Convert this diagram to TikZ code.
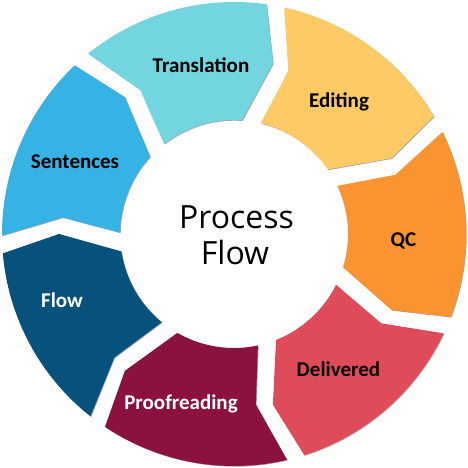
\documentclass[tikz,border=0pt]{standalone}
\usepackage{fontspec}
\setmainfont{Carlito}
\newfontfamily\centrefont{Open Sans}
\usetikzlibrary{shadows}
\definecolor{sentc}{HTML}{36B3E4}
\definecolor{translc}{HTML}{73D5DF}
\definecolor{editc}{HTML}{FECA66}
\definecolor{qcc}{HTML}{F99431}
\definecolor{delivc}{HTML}{E04B5A}
\definecolor{proofc}{HTML}{8B113E}
\definecolor{flowc}{HTML}{07517D}
\tikzset{
  segment/.style={fill=#1, draw=none,
    drop shadow={shadow xshift=0.7pt, shadow yshift=-0.7pt, opacity=0.5, fill=black!70}},
  stage/.style={anchor=base, inner sep=0pt, font=\bfseries\fontsize{21}{21}\selectfont},
  centre/.style={anchor=base, inner sep=0pt, font=\centrefont\fontsize{32}{36}\selectfont}
}
\begin{document}
\begin{tikzpicture}[x=1pt,y=1pt]
  \useasboundingbox (-234,-234) rectangle (234,234);
  % ring of arrow segments, running clockwise
  \foreach \c/\col in {156.86/sentc, 105.43/translc, 54/editc, 2.57/qcc,
      -48.86/delivc, -100.29/proofc, -151.71/flowc}
    \fill[segment=\col] (\c+23.5:232)
      arc[start angle=\c+23.5, end angle=\c-23.5, radius=232]
      -- (\c-28.3:175) -- (\c-19.5:114)
      arc[start angle=\c-19.5, end angle=\c+22.4, radius=114]
      -- (\c+17.6:172) -- cycle;
  % labels
  \node[stage] (sent) at (-159,65.7) {Sentences};
  \node[stage] (transl) at (-33,161.7) {Translation};
  \node[stage] (edit) at (105,126) {Editing};
  \node[stage] (qc) at (169.5,-13) {QC};
  \node[stage] (deliv) at (104.5,-142) {Delivered};
  \node[stage, text=white] (proof) at (-53,-175) {Proofreading};
  \node[stage, text=white] (flow) at (-172,-74) {Flow};
  \node[centre] (process) at (2.5,5) {Process};
  \node[centre] (processflow) at (1,-31) {Flow};
\end{tikzpicture}
\end{document}
